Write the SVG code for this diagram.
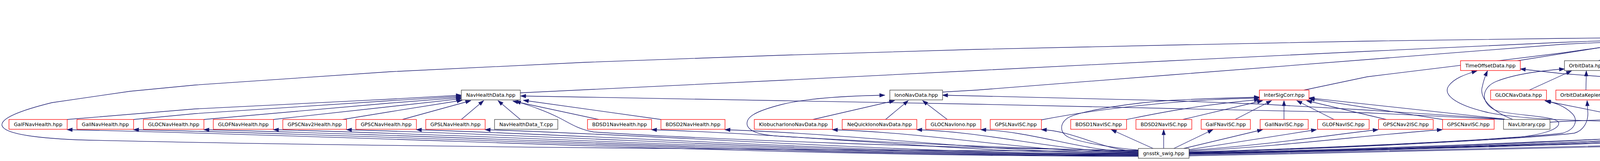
<svg xmlns="http://www.w3.org/2000/svg" width="6000" height="411" viewBox="0 0 6000 411">
<style>
.n rect{fill:#fff;stroke:#404040;stroke-width:1.3}
.n.r rect{stroke:#ff0000}
.n.root rect{fill:#bfbfbf}
text{font-family:"DejaVu Sans","Liberation Sans",sans-serif;font-size:12.8px;text-anchor:middle;fill:#000}
#edges path{fill:none;stroke:#191970;stroke-width:1.3;marker-end:url(#ah)}
</style>
<defs>
<marker id="ah" markerUnits="userSpaceOnUse" viewBox="0 0 14 10" markerWidth="14" markerHeight="10" refX="13" refY="5" orient="auto" style="overflow:visible"><path d="M0,0.5 L13,5 L0,9.5 z" fill="#191970" stroke="#191970" stroke-width="1"/></marker>
</defs>
<rect width="6000" height="411" fill="#fff"/>
<g id="edges">
<path d="M4302,88 L5483,25"/>
<path d="M5335,155 L5537,31"/>
<path d="M5857,81 L5628,32"/>
<path d="M3044,398 C4000,380 5000,352 5500,343 C5600,340 5690,325 5750,310 C5790,298 5795,280 5795,260 L5795,200 C5795,110 5720,65 5620,32"/>
<path d="M3044,396 C4000,378 5000,350 5500,340 C5600,336 5660,315 5700,280 C5730,250 5725,225 5700,212 C5640,185 5500,172 5393,170"/>
<path d="M2914,386 C2000,384 800,372 200,357 C80,352 10,340 5,320 C2,300 60,280 133,262 L333,233 L500,217 L1000,183 L1500,159 L2000,141 L2500,126 L3000,115 L3500,105 L4000,98 L4195,96"/>
<path d="M1332,237 L1500,229 L2000,205 L2500,180 L3000,155 L3500,131 L4000,108 L4195,101"/>
<path d="M2413,235 L2500,230 L3000,191 L3500,152 L4000,113 L4195,104"/>
<path d="M3338,230 L3500,196 L4000,135 L4195,107"/>
<path d="M3885,155 L4195,106"/>
<path d="M4092,155 L4210,107"/>
<path d="M4249,155 L4249,107"/>
<path d="M4402,155 L4288,107"/>
<path d="M4543,155 L4302,105"/>
<path d="M4711,157 L4302,100"/>
<path d="M5240,161 L4302,93"/>
<path d="M4922,305 C4918,240 4900,175 4860,152 C4780,115 4550,103 4302,96"/>
<path d="M4797,230 L5240,180"/>
<path d="M5060,230 L5253,182"/>
<path d="M5192,230 L5285,185"/>
<path d="M5171,305 C5220,275 5265,245 5302,183"/>
<path d="M5317,305 L5317,181"/>
<path d="M5470,305 C5420,275 5365,230 5330,183"/>
<path d="M5437,230 L5350,183"/>
<path d="M5575,230 L5500,213 L5377,182"/>
<path d="M3968,312 L4000,310 L4500,290 L5000,266 L5110,255"/>
<path d="M4962,305 L5000,290 L5127,257"/>
<path d="M3044,394 C3800,380 4600,348 4950,336 C4985,335 4998,333 5005,331 L5140,258"/>
<path d="M5155,305 L5163,257"/>
<path d="M5292,305 L5200,257"/>
<path d="M5442,305 L5223,257"/>
<path d="M4325,305 L4500,277 L4622,257"/>
<path d="M3044,393 C3700,380 4300,352 4500,343 C4570,338 4610,320 4640,290 L4685,257"/>
<path d="M3044,392 C3800,380 4300,355 4500,347 C4600,343 4700,325 4760,305 C4820,280 4830,245 4820,225 C4800,195 4740,188 4690,182"/>
<path d="M3044,391 C3800,378 4300,355 4500,350 C4650,345 4750,338 4843,331"/>
<path d="M3044,388 C3500,375 3900,352 4000,340 C4035,330 4040,305 4025,290 C4005,270 3980,262 3955,257"/>
<path d="M3044,389 C3500,378 3950,350 4030,340 C4055,333 4065,310 4065,290 L4063,257"/>
<path d="M3044,390 C3600,380 4150,352 4300,347 C4350,343 4385,330 4382,310 C4378,285 4340,268 4292,257"/>
<path d="M3044,391 C3700,380 4200,350 4333,343 C4385,338 4405,320 4408,295 L4404,257"/>
<path d="M3044,389 C3400,380 3750,360 3850,354 C3950,346 3995,330 3990,312 C3980,295 3870,295 3830,282 C3790,265 3790,225 3830,208 C3880,188 3950,180 4005,176"/>
<path d="M3044,392 C3700,380 4250,355 4400,343 C4470,335 4510,295 4505,260 C4500,215 4440,195 4355,181"/>
<path d="M2914,384 C2400,378 1800,355 1520,337 C1480,330 1460,315 1430,300 C1390,280 1350,268 1320,258"/>
<path d="M2914,385 C2600,380 2200,360 2000,348 C1950,345 1920,338 1913,320 C1908,300 1930,285 2000,267 C2060,252 2150,245 2265,243"/>
<path d="M2914,383 C2850,378 2760,362 2735,350 C2712,338 2712,315 2735,300 C2770,282 2900,262 3000,256 C3100,251 3170,249 3224,248"/>
<path d="M172,305 L500,278 L1000,253 L1181,243"/>
<path d="M342,305 L500,290 L1000,257 L1181,246"/>
<path d="M522,305 L1000,263 L1181,249"/>
<path d="M700,305 L1000,272 L1181,252"/>
<path d="M877,305 L1000,285 L1183,256"/>
<path d="M1030,305 L1205,257"/>
<path d="M1181,305 L1238,257"/>
<path d="M1332,305 L1275,257"/>
<path d="M1533,305 L1313,258"/>
<path d="M1692,305 L1340,256"/>
<path d="M3850,305 L3500,288 L3000,277 L2500,266 L2000,257 L1500,248 L1333,245"/>
<path d="M2081,305 L2290,257"/>
<path d="M2267,305 L2325,257"/>
<path d="M2425,305 L2362,257"/>
<path d="M3852,304 L3500,281 L3233,266 L3000,257 L2500,245 L2413,243"/>
<path d="M2666,306 C2800,280 3000,255 3224,250"/>
<path d="M2884,305 C2950,292 3050,270 3224,254"/>
<path d="M3028,305 L3232,257"/>
<path d="M3162,305 L3255,257"/>
<path d="M3287,305 L3287,257"/>
<path d="M3415,305 L3320,257"/>
<path d="M3549,305 L3345,257"/>
<path d="M3693,305 L3352,252"/>
<path d="M3851,304 L3351,250"/>
<path d="M3873,305 C3820,285 3785,250 3795,220 C3798,205 3803,192 3808,181"/>
<path d="M4145,310 C4050,308 3880,305 3800,285 C3720,265 3695,240 3708,220 C3722,200 3750,190 3781,181"/>
<path d="M4590,232 L4500,225 L4000,188 L3892,176"/>
<path d="M3915,230 L4023,181"/>
<path d="M4060,230 L4061,181"/>
<path d="M4205,230 L4097,181"/>
<path d="M4343,230 L4120,181"/>
<path d="M4593,230 C4500,205 4400,188 4300,185 L4132,181"/>
<path d="M4193,305 L3957,258"/>
<path d="M4222,305 L4100,259"/>
<path d="M4844,311 L4500,287 L4150,257"/>
<path d="M4250,305 L4238,257"/>
<path d="M2914,399 C1954,399 1132,353 172,331"/>
<path d="M2914,398 C2014,398 1242,352 342,331"/>
<path d="M2914,397 C2077,397 1359,352 522,331"/>
<path d="M2914,396 C2139,396 1475,352 700,331"/>
<path d="M2914,395 C2205,395 1596,352 887,331"/>
<path d="M2914,394 C2267,394 1713,353 1066,331"/>
<path d="M2914,393 C2329,393 1827,351 1242,331"/>
<path d="M2914,392 C2478,392 2104,346 1668,331"/>
<path d="M2914,391 C2544,391 2226,344 1856,331"/>
<path d="M2914,390 C2640,390 2405,340 2131,331"/>
<path d="M2914,389 C2716,389 2545,338 2347,331"/>
<path d="M2914,388 C2773,388 2652,336 2511,331"/>
<path d="M2914,386 C2827,386 2753,334 2666,331"/>
<path d="M2952,379 L2845,331"/>
<path d="M2979,379 L2979,331"/>
<path d="M3005,379 L3105,331"/>
<path d="M3030,379 L3232,331"/>
<path d="M3044,382 L3370,331"/>
<path d="M3044,384 C3250,370 3400,345 3528,331"/>
<path d="M3044,386 C3300,372 3500,345 3692,331"/>
</g>
<g id="NavMessageID_hpp" class="n root"><rect x="5483" y="6" width="148" height="25"/><text x="5557" y="22.5">NavMessageID.hpp</text></g>
<g id="NavData_hpp" class="n"><rect x="4195" y="81" width="107" height="25"/><text x="4248.5" y="97.5">NavData.hpp</text></g>
<g id="NavMessageID_T_cpp" class="n"><rect x="5833" y="81" width="162" height="25"/><text x="5914" y="97.5">NavMessageID_T.cpp</text></g>
<g id="TimeOffsetData_hpp" class="n r"><rect x="3739" y="155" width="153" height="25"/><text x="3815.5" y="171.5">TimeOffsetData.hpp</text></g>
<g id="OrbitData_hpp" class="n"><rect x="4005" y="155" width="114" height="25"/><text x="4062" y="171.5">OrbitData.hpp</text></g>
<g id="NavDataFactoryCallback_hpp" class="n r"><rect x="4143" y="155" width="211" height="25"/><text x="4248.5" y="171.5">NavDataFactoryCallback.hpp</text></g>
<g id="NavData_cpp" class="n"><rect x="4378" y="155" width="107" height="25"/><text x="4431.5" y="171.5">NavData.cpp</text></g>
<g id="PNBNavDataFactory_hpp" class="n r"><rect x="4508" y="155" width="179" height="25"/><text x="4597.5" y="171.5">PNBNavDataFactory.hpp</text></g>
<g id="FactoryCounter_hpp" class="n r"><rect x="4711" y="155" width="147" height="25"/><text x="4784.5" y="171.5">FactoryCounter.hpp</text></g>
<g id="NavDataFactory_hpp" class="n"><rect x="5240" y="155" width="153" height="25"/><text x="5316.5" y="171.5">NavDataFactory.hpp</text></g>
<g id="NavHealthData_hpp" class="n"><rect x="1181" y="230" width="151" height="25"/><text x="1256.5" y="246.5">NavHealthData.hpp</text></g>
<g id="IonoNavData_hpp" class="n"><rect x="2278" y="230" width="135" height="25"/><text x="2345.5" y="246.5">IonoNavData.hpp</text></g>
<g id="InterSigCorr_hpp" class="n r"><rect x="3224" y="230" width="127" height="25"/><text x="3287.5" y="246.5">InterSigCorr.hpp</text></g>
<g id="GLOCNavData_hpp" class="n r"><rect x="3816" y="230" width="143" height="25"/><text x="3887.5" y="246.5">GLOCNavData.hpp</text></g>
<g id="OrbitDataKepler_hpp" class="n r"><rect x="3983" y="230" width="153" height="25"/><text x="4059.5" y="246.5">OrbitDataKepler.hpp</text></g>
<g id="GLOFNavData_hpp" class="n r"><rect x="4160" y="230" width="142" height="25"/><text x="4231" y="246.5">GLOFNavData.hpp</text></g>
<g id="OrbitDataSP3_hpp" class="n r"><rect x="4326" y="230" width="138" height="25"/><text x="4395" y="246.5">OrbitDataSP3.hpp</text></g>
<g id="NavDataFactoryWithStore_hpp" class="n r"><rect x="4590" y="230" width="219" height="25"/><text x="4699.5" y="246.5">NavDataFactoryWithStore.hpp</text></g>
<g id="NavDataFactory_cpp" class="n"><rect x="4935" y="230" width="150" height="25"/><text x="5010" y="246.5">NavDataFactory.cpp</text></g>
<g id="NavLibrary_hpp" class="n r"><rect x="5109" y="230" width="119" height="25"/><text x="5168.5" y="246.5">NavLibrary.hpp</text></g>
<g id="NavStatic_cpp" class="n"><rect x="5404" y="230" width="113" height="25"/><text x="5460.5" y="246.5">NavStatic.cpp</text></g>
<g id="NavDataFactory_T_cpp" class="n"><rect x="5540" y="230" width="167" height="25"/><text x="5623.5" y="246.5">NavDataFactory_T.cpp</text></g>
<g id="GalFNavHealth_hpp" class="n r"><rect x="23" y="305" width="149" height="25"/><text x="97.5" y="321.5">GalFNavHealth.hpp</text></g>
<g id="GalINavHealth_hpp" class="n r"><rect x="197" y="305" width="145" height="25"/><text x="269.5" y="321.5">GalINavHealth.hpp</text></g>
<g id="GLOCNavHealth_hpp" class="n r"><rect x="367" y="305" width="155" height="25"/><text x="444.5" y="321.5">GLOCNavHealth.hpp</text></g>
<g id="GLOFNavHealth_hpp" class="n r"><rect x="546" y="305" width="154" height="25"/><text x="623" y="321.5">GLOFNavHealth.hpp</text></g>
<g id="GPSCNav2Health_hpp" class="n r"><rect x="724" y="305" width="163" height="25"/><text x="805.5" y="321.5">GPSCNav2Health.hpp</text></g>
<g id="GPSCNavHealth_hpp" class="n r"><rect x="911" y="305" width="155" height="25"/><text x="988.5" y="321.5">GPSCNavHealth.hpp</text></g>
<g id="GPSLNavHealth_hpp" class="n r"><rect x="1090" y="305" width="152" height="25"/><text x="1166" y="321.5">GPSLNavHealth.hpp</text></g>
<g id="NavHealthData_T_cpp" class="n"><rect x="1266" y="305" width="162" height="25"/><text x="1347" y="321.5">NavHealthData_T.cpp</text></g>
<g id="BDSD1NavHealth_hpp" class="n r"><rect x="1504" y="305" width="164" height="25"/><text x="1586" y="321.5">BDSD1NavHealth.hpp</text></g>
<g id="BDSD2NavHealth_hpp" class="n r"><rect x="1692" y="305" width="164" height="25"/><text x="1774" y="321.5">BDSD2NavHealth.hpp</text></g>
<g id="KlobucharIonoNavData_hpp" class="n r"><rect x="1931" y="305" width="200" height="25"/><text x="2031" y="321.5">KlobucharIonoNavData.hpp</text></g>
<g id="NeQuickIonoNavData_hpp" class="n r"><rect x="2156" y="305" width="191" height="25"/><text x="2251.5" y="321.5">NeQuickIonoNavData.hpp</text></g>
<g id="GLOCNavIono_hpp" class="n r"><rect x="2370" y="305" width="141" height="25"/><text x="2440.5" y="321.5">GLOCNavIono.hpp</text></g>
<g id="GPSLNavISC_hpp" class="n r"><rect x="2535" y="305" width="131" height="25"/><text x="2600.5" y="321.5">GPSLNavISC.hpp</text></g>
<g id="BDSD1NavISC_hpp" class="n r"><rect x="2741" y="305" width="143" height="25"/><text x="2812.5" y="321.5">BDSD1NavISC.hpp</text></g>
<g id="BDSD2NavISC_hpp" class="n r"><rect x="2908" y="305" width="143" height="25"/><text x="2979.5" y="321.5">BDSD2NavISC.hpp</text></g>
<g id="GalFNavISC_hpp" class="n r"><rect x="3075" y="305" width="126" height="25"/><text x="3138" y="321.5">GalFNavISC.hpp</text></g>
<g id="GalINavISC_hpp" class="n r"><rect x="3226" y="305" width="123" height="25"/><text x="3287.5" y="321.5">GalINavISC.hpp</text></g>
<g id="GLOFNavISC_hpp" class="n r"><rect x="3373" y="305" width="132" height="25"/><text x="3439" y="321.5">GLOFNavISC.hpp</text></g>
<g id="GPSCNav2ISC_hpp" class="n r"><rect x="3529" y="305" width="140" height="25"/><text x="3599" y="321.5">GPSCNav2ISC.hpp</text></g>
<g id="GPSCNavISC_hpp" class="n r"><rect x="3693" y="305" width="132" height="25"/><text x="3759" y="321.5">GPSCNavISC.hpp</text></g>
<g id="NavLibrary_cpp" class="n"><rect x="3849" y="305" width="119" height="25"/><text x="3908.5" y="321.5">NavLibrary.cpp</text></g>
<g id="NavDataFactoryWithStore_cpp" class="n"><rect x="4145" y="305" width="217" height="25"/><text x="4253.5" y="321.5">NavDataFactoryWithStore.cpp</text></g>
<g id="NewNavToRinex_hpp" class="n r"><rect x="4844" y="305" width="155" height="25"/><text x="4921.5" y="321.5">NewNavToRinex.hpp</text></g>
<g id="PreciseRange_T_cpp" class="n"><rect x="5076" y="305" width="151" height="25"/><text x="5151.5" y="321.5">PreciseRange_T.cpp</text></g>
<g id="RawRange_T_cpp" class="n"><rect x="5251" y="305" width="132" height="25"/><text x="5317" y="321.5">RawRange_T.cpp</text></g>
<g id="EphemerisRange_T_cpp" class="n"><rect x="5407" y="305" width="174" height="25"/><text x="5494" y="321.5">EphemerisRange_T.cpp</text></g>
<g id="gnsstk_swig_hpp" class="n"><rect x="2914" y="379" width="130" height="25"/><text x="2979" y="395.5">gnsstk_swig.hpp</text></g>
</svg>
